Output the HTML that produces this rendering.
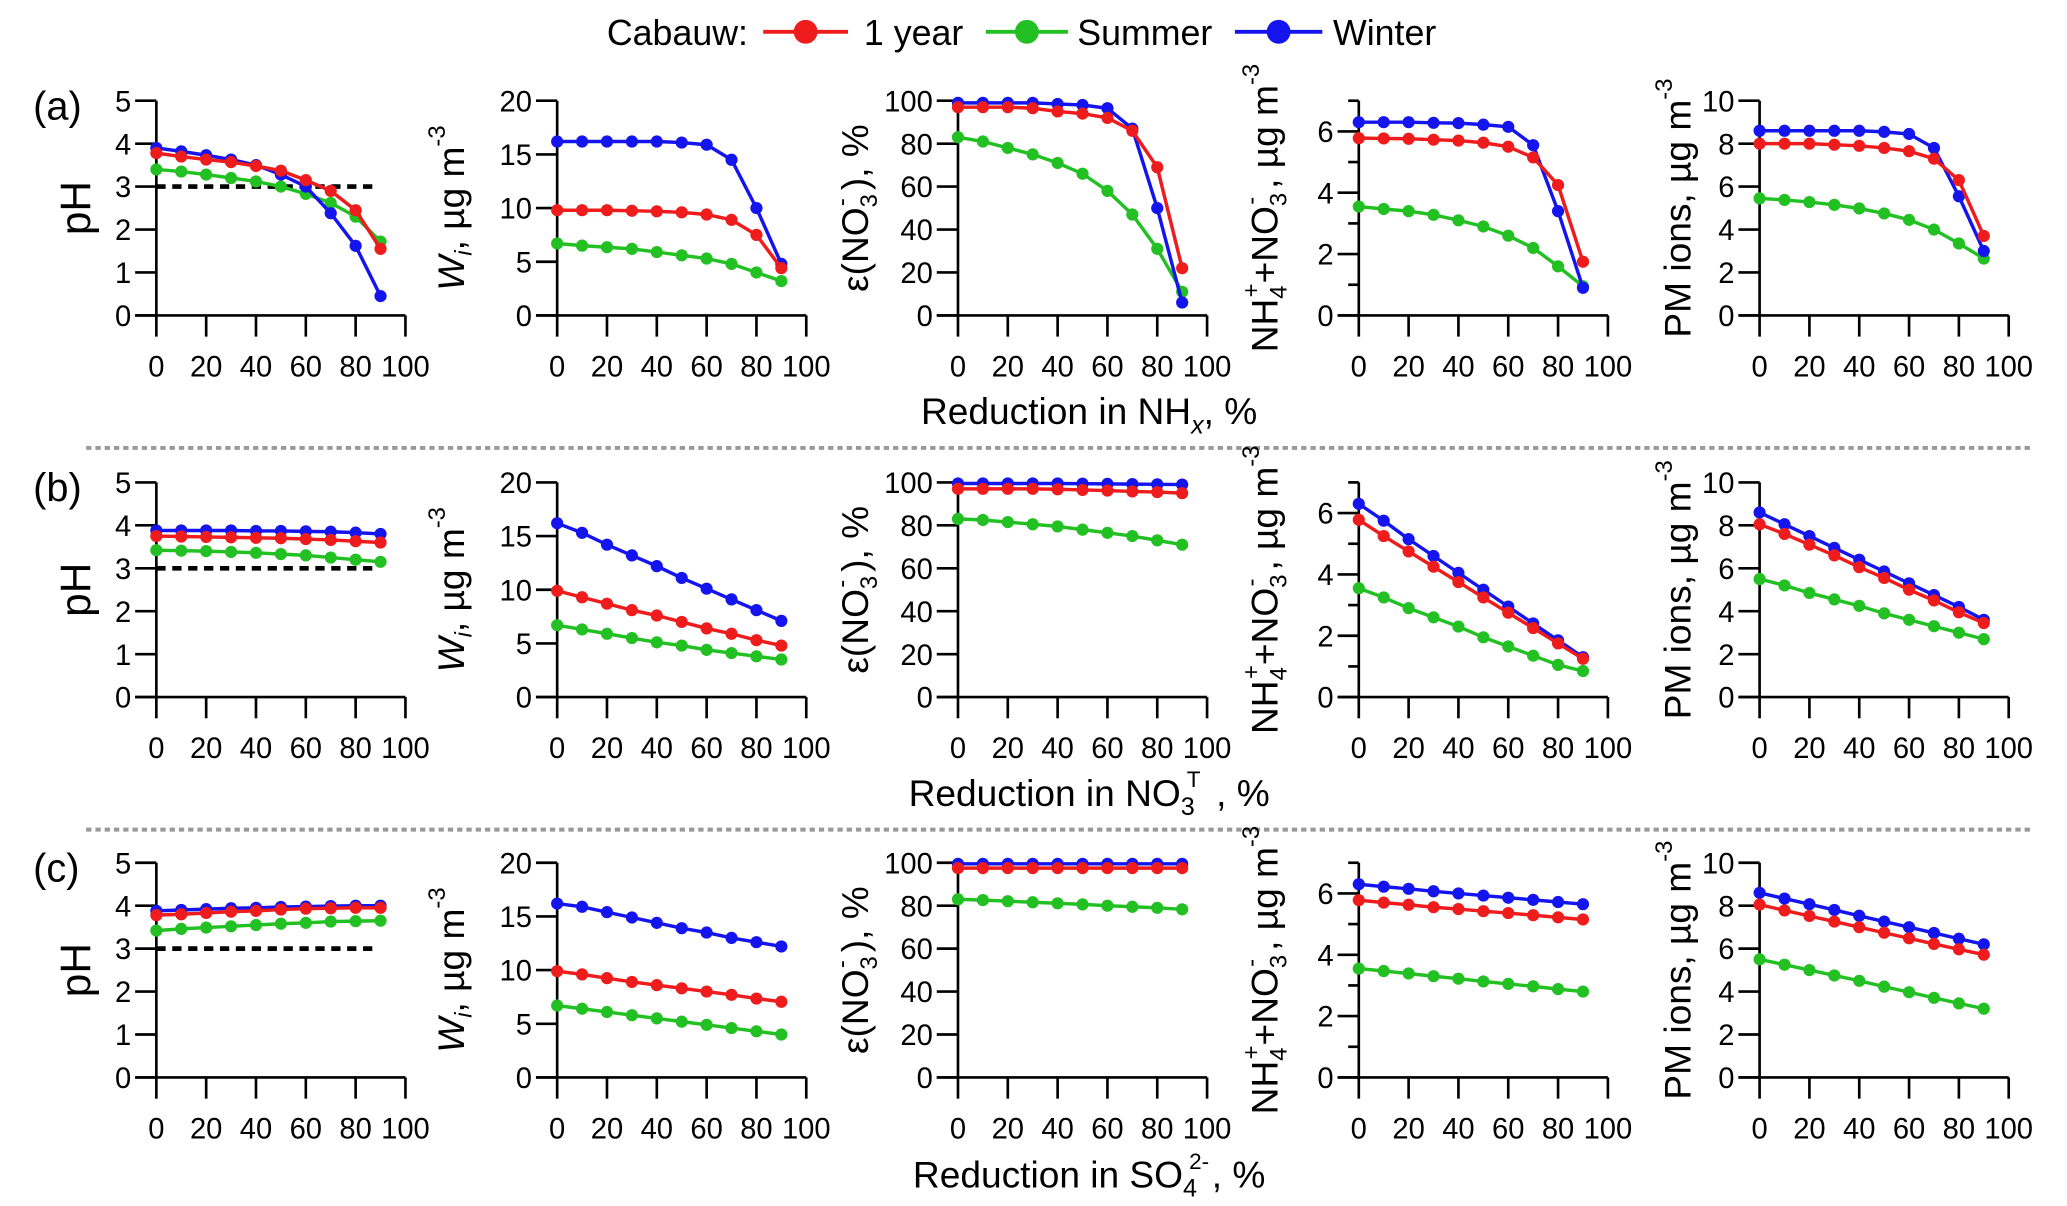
<!DOCTYPE html>
<html><head><meta charset="utf-8"><style>
html,body{margin:0;padding:0;background:#fff;}
svg{display:block;}
text{font-family:"Liberation Sans Narrow","Liberation Sans",sans-serif;fill:#000;}
</style></head><body>
<svg id="fig" width="2067" height="1206" viewBox="0 0 1560 910" preserveAspectRatio="none" xmlns="http://www.w3.org/2000/svg">
<g>
<text x="458" y="34" font-size="27">Cabauw:</text>
<g><line x1="576" y1="24" x2="640" y2="24" stroke="#ee1c1c" stroke-width="3"/><circle cx="608" cy="24" r="9" fill="#ee1c1c"/><text x="652" y="34" font-size="27">1 year</text></g>
<g><line x1="744" y1="24" x2="806" y2="24" stroke="#22c022" stroke-width="3"/><circle cx="775" cy="24" r="9" fill="#22c022"/><text x="813" y="34" font-size="27">Summer</text></g>
<g><line x1="932" y1="24" x2="998" y2="24" stroke="#1414ee" stroke-width="3"/><circle cx="965" cy="24" r="9" fill="#1414ee"/><text x="1006" y="34" font-size="27">Winter</text></g>
</g>
<line x1="65" y1="338" x2="1535" y2="338" stroke="#999" stroke-width="3" stroke-dasharray="4 3"/>
<line x1="65" y1="626" x2="1535" y2="626" stroke="#999" stroke-width="3" stroke-dasharray="4 3"/>
</svg>
<script>
const xVals=[0,10,20,30,40,50,60,70,80,90];
const xTicks=[0,20,40,60,80,100];
// Row a: NHx reduction
const aPhYear=[3.78,3.7,3.63,3.57,3.48,3.37,3.15,2.9,2.45,1.55];
const aPhSummer=[3.4,3.35,3.28,3.2,3.12,3.0,2.83,2.62,2.3,1.72];
const aPhWinter=[3.9,3.82,3.73,3.63,3.5,3.28,3.0,2.38,1.62,0.45];
const aWYear=[9.8,9.8,9.8,9.75,9.7,9.6,9.4,8.9,7.5,4.4];
const aWSummer=[6.7,6.5,6.35,6.2,5.9,5.6,5.3,4.8,4.0,3.2];
const aWWinter=[16.2,16.2,16.2,16.2,16.2,16.1,15.9,14.5,10,4.8];
const aEYear=[97,97,97,96.5,95,94,92,86,69,22];
const aESummer=[83,81,78,75,71,66,58,47,31,11];
const aEWinter=[99,99,99,99,98.5,98,96.5,87,50,6];
const aNYear=[5.78,5.77,5.76,5.73,5.7,5.63,5.5,5.15,4.25,1.75];
const aNSummer=[3.55,3.47,3.4,3.28,3.1,2.9,2.6,2.2,1.6,0.95];
const aNWinter=[6.3,6.3,6.3,6.28,6.27,6.22,6.15,5.55,3.4,0.9];
const aPYear=[8.0,8.0,8.0,7.95,7.9,7.8,7.65,7.3,6.3,3.7];
const aPSummer=[5.45,5.38,5.28,5.15,4.98,4.75,4.45,4.0,3.35,2.65];
const aPWinter=[8.6,8.6,8.6,8.6,8.6,8.55,8.45,7.8,5.55,3.0];
// Row b: NO3T reduction
const bPhYear=[3.75,3.74,3.73,3.72,3.71,3.7,3.68,3.66,3.63,3.6];
const bPhSummer=[3.42,3.41,3.4,3.38,3.36,3.33,3.3,3.25,3.2,3.15];
const bPhWinter=[3.88,3.88,3.88,3.88,3.87,3.87,3.86,3.85,3.83,3.8];
const bWYear=[9.9,9.3,8.7,8.1,7.6,7.0,6.4,5.9,5.3,4.8];
const bWSummer=[6.7,6.3,5.9,5.5,5.1,4.8,4.4,4.1,3.8,3.5];
const bWWinter=[16.2,15.3,14.2,13.2,12.2,11.1,10.1,9.1,8.1,7.1];
const bEYear=[97,97,97,97,96.8,96.5,96.2,95.8,95.5,95];
const bESummer=[83,82.5,81.5,80.5,79.5,78,76.5,75,73,71];
const bEWinter=[99.5,99.5,99.5,99.5,99.5,99.4,99.3,99.2,99.1,99];
const bNYear=[5.78,5.25,4.75,4.25,3.75,3.25,2.75,2.25,1.75,1.25];
const bNSummer=[3.55,3.25,2.9,2.6,2.3,1.95,1.65,1.35,1.05,0.85];
const bNWinter=[6.3,5.75,5.15,4.6,4.05,3.5,2.95,2.4,1.85,1.3];
const bPYear=[8.05,7.6,7.1,6.6,6.05,5.55,5.0,4.5,3.95,3.45];
const bPSummer=[5.5,5.2,4.85,4.55,4.25,3.9,3.6,3.3,3.0,2.7];
const bPWinter=[8.6,8.05,7.5,6.95,6.4,5.85,5.3,4.75,4.2,3.6];
// Row c: SO4 reduction
const cPhYear=[3.78,3.8,3.83,3.86,3.88,3.91,3.93,3.94,3.95,3.95];
const cPhSummer=[3.42,3.46,3.49,3.52,3.55,3.58,3.6,3.63,3.64,3.65];
const cPhWinter=[3.88,3.9,3.92,3.94,3.95,3.97,3.98,3.99,4.0,4.0];
const cWYear=[9.9,9.6,9.25,8.9,8.6,8.3,8.0,7.7,7.35,7.05];
const cWSummer=[6.7,6.4,6.1,5.8,5.5,5.2,4.9,4.6,4.3,4.0];
const cWWinter=[16.2,15.9,15.4,14.9,14.4,13.9,13.5,13.0,12.6,12.2];
const cEYear=[97.5,97.5,97.5,97.5,97.5,97.5,97.5,97.5,97.5,97.5];
const cESummer=[83,82.6,82.1,81.6,81.1,80.6,80,79.5,79,78.3];
const cEWinter=[99.5,99.5,99.5,99.5,99.5,99.5,99.5,99.5,99.5,99.5];
const cNYear=[5.78,5.7,5.63,5.55,5.49,5.42,5.36,5.29,5.22,5.15];
const cNSummer=[3.55,3.47,3.39,3.3,3.22,3.13,3.05,2.97,2.88,2.8];
const cNWinter=[6.3,6.22,6.15,6.07,6.0,5.93,5.86,5.79,5.72,5.65];
const cPYear=[8.05,7.78,7.52,7.26,7.0,6.74,6.48,6.22,5.97,5.72];
const cPSummer=[5.5,5.25,5.0,4.75,4.5,4.23,3.97,3.71,3.45,3.2];
const cPWinter=[8.6,8.33,8.07,7.8,7.53,7.26,7.0,6.73,6.46,6.2];
const pHThreshold=3;

const NS="http://www.w3.org/2000/svg";
const svg=document.getElementById('fig');
const COL={year:'#ee1c1c',summer:'#22c022',winter:'#1414ee'};
const colX=[118,420.5,723,1025.5,1328];
const PW=188, PH=162;
const rowTop=[76,364,651];
const rowLetters=['a','b','c'];
const axes=[
 {max:5,major:[0,1,2,3,4,5],minor:[]},
 {max:20,major:[0,5,10,15,20],minor:[]},
 {max:100,major:[0,20,40,60,80,100],minor:[]},
 {max:7,major:[0,2,4,6],minor:[1,3,5,7]},
 {max:10,major:[0,2,4,6,8,10],minor:[]}
];
const data=[
 [[aPhYear,aPhSummer,aPhWinter],[aWYear,aWSummer,aWWinter],[aEYear,aESummer,aEWinter],[aNYear,aNSummer,aNWinter],[aPYear,aPSummer,aPWinter]],
 [[bPhYear,bPhSummer,bPhWinter],[bWYear,bWSummer,bWWinter],[bEYear,bESummer,bEWinter],[bNYear,bNSummer,bNWinter],[bPYear,bPSummer,bPWinter]],
 [[cPhYear,cPhSummer,cPhWinter],[cWYear,cWSummer,cWWinter],[cEYear,cESummer,cEWinter],[cNYear,cNSummer,cNWinter],[cPYear,cPSummer,cPWinter]]
];
const seriesNames=['year','summer','winter'];
const drawOrder=[1,2,0];
function el(tag,attrs,parent){const e=document.createElementNS(NS,tag);for(const k in attrs)e.setAttribute(k,attrs[k]);(parent||svg).appendChild(e);return e;}

const yLabels=[
 '<tspan font-size="32">pH</tspan>',
 '<tspan font-style="italic">W</tspan><tspan font-style="italic" font-size="18" dy="6">i</tspan><tspan dy="-6">, µg m</tspan><tspan font-size="18" dy="-14">-3</tspan>',
 '<tspan>ε(NO</tspan><tspan font-size="18" dy="7">3</tspan><tspan font-size="18" dx="-9" dy="-21">-</tspan><tspan dy="14" dx="6">), %</tspan>',
 '<tspan>NH</tspan><tspan font-size="18" dy="7">4</tspan><tspan font-size="18" dx="-9" dy="-21">+</tspan><tspan dy="14">+NO</tspan><tspan font-size="18" dy="7">3</tspan><tspan font-size="18" dx="-9" dy="-21">-</tspan><tspan dy="14" dx="6">, µg m</tspan><tspan font-size="18" dy="-14">-3</tspan>',
 '<tspan>PM ions, µg m</tspan><tspan font-size="18" dy="-14">-3</tspan>'
];
const yLabelX=[68,350,655,964,1276];
const xTitles=[
 'Reduction in NH<tspan font-style="italic" font-size="19" dy="7">x</tspan><tspan dy="-7">, %</tspan>',
 'Reduction in NO<tspan font-size="19" dy="7">3</tspan><tspan font-size="17" dx="-6" dy="-21">T</tspan><tspan dy="14" dx="4"> , %</tspan>',
 'Reduction in SO<tspan font-size="19" dy="7">4</tspan><tspan font-size="17" dx="-6" dy="-21">2-</tspan><tspan dy="14" dx="2">, %</tspan>'
];
const xTitleY=[320,608,896];

for(let r=0;r<3;r++){
 const top=rowTop[r], bot=top+PH;
 const lab=el('text',{x:25,y:top+14,'font-size':30});
 lab.textContent='('+rowLetters[r]+')';
 
 
 const xt=el('text',{x:822,y:xTitleY[r],'font-size':28,'text-anchor':'middle'});
 xt.innerHTML=xTitles[r];
 
 
 for(let c=0;c<5;c++){
  const x0=colX[c], ax=axes[c];
  const g=el('g',{});
  
  
  const sx=v=>x0+v/100*PW;
  const sy=v=>bot-v/ax.max*PH;
  el('line',{x1:x0,y1:top,x2:x0,y2:bot,stroke:'#000','stroke-width':2},g);
  el('line',{x1:x0-16,y1:bot,x2:x0+PW,y2:bot,stroke:'#000','stroke-width':2},g);
  ax.major.forEach(v=>{
   el('line',{x1:x0-16,y1:sy(v),x2:x0,y2:sy(v),stroke:'#000','stroke-width':2},g);
   const t=el('text',{x:x0-19,y:sy(v)+8,'font-size':22,'text-anchor':'end'},g);
   t.textContent=v;
   
   
  });
  ax.minor.forEach(v=>{el('line',{x1:x0-8,y1:sy(v),x2:x0,y2:sy(v),stroke:'#000','stroke-width':2},g);});
  xTicks.forEach(v=>{
   el('line',{x1:sx(v),y1:bot,x2:sx(v),y2:bot+16,stroke:'#000','stroke-width':2},g);
   const t=el('text',{x:sx(v),y:bot+46,'font-size':22,'text-anchor':'middle'},g);
   t.textContent=v;
   
   
  });
  const yl=el('text',{transform:'translate('+yLabelX[c]+','+(top+PH/2)+') rotate(-90)','font-size':28,'text-anchor':'middle'},g);
  yl.innerHTML=yLabels[c];
  
  
  if(c===0){
   const d=el('line',{x1:sx(0),y1:sy(pHThreshold),x2:sx(87),y2:sy(pHThreshold),stroke:'#000','stroke-width':3.5,'stroke-dasharray':'7 5'},g);
   
   
  }
  drawOrder.forEach(si=>{
   const vals=data[r][c][si];
   const pts=xVals.map((x,i)=>sx(x)+','+sy(vals[i])).join(' ');
   const pl=el('polyline',{points:pts,fill:'none',stroke:COL[seriesNames[si]],'stroke-width':2.6},g);
   
   
   xVals.forEach((x,i)=>{
    const p=el('circle',{cx:sx(x),cy:sy(vals[i]),r:4.6,fill:COL[seriesNames[si]]},g);
    
    
   });
  });
 }
}
</script>
</body></html>
